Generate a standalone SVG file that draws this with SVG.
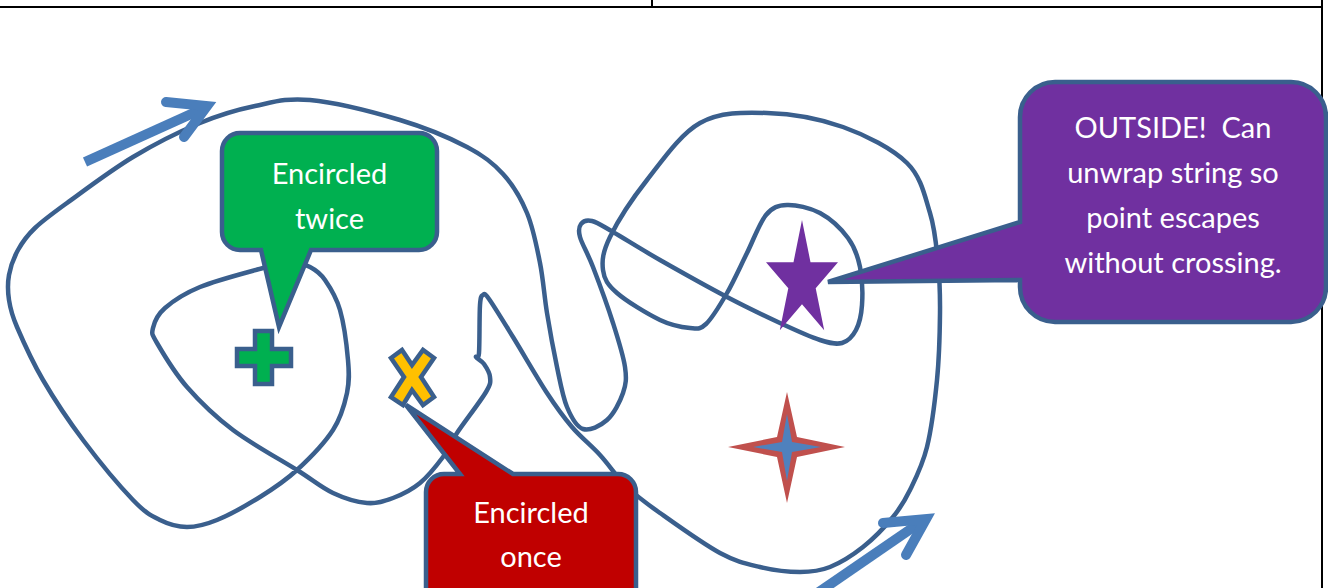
<svg xmlns="http://www.w3.org/2000/svg" width="1328" height="588" viewBox="0 0 1328 588">
<style>
.border{stroke:#000;stroke-width:2;fill:none}
.string{fill:none;stroke:#3A5F8D;stroke-width:4.5;stroke-linejoin:round}
.arrow{fill:none;stroke:#4A7EBB;stroke-width:10}
.callout{stroke:#3A5F8D;stroke-width:4.5;stroke-linejoin:miter}
.lbl{font-family:Lato,"Liberation Sans",sans-serif;font-size:29px;fill:#fff;text-anchor:middle;white-space:pre}
</style>
<rect width="1328" height="588" fill="#fff"/>
<g id="table-borders">
<line class="border" x1="0" y1="7" x2="1323" y2="7"/>
<line class="border" x1="652" y1="0" x2="652" y2="7"/>
<line class="border" x1="1322" y1="0" x2="1322" y2="588"/>
</g>
<g id="connectors">
<path id="string" class="string" d="M9,300 C7.7,291.3 7.5,283.3 9,275 S13.7,257.8 18,250 S26.8,235.8 35,228 S50.7,214.8 67,203 S110.8,170.3 133,157 S179.7,131.5 200,123 S236.7,109.8 255,106 S285.8,97.7 310,100 S373.8,112.2 400,120 S449.8,138 467,147 S493,163 503,174 S520.8,198.2 527,213 S536.7,246.3 540,263 S544.2,295.7 547,313 S553.7,351.3 557,367 S562.7,396.7 567,407 S576.3,426.8 583,429 S600.3,426 607,420 S620,401.8 623,393 S626.7,378.7 625,367 S618.3,339.7 613,323 S598.5,281.3 593,267 S582,244.2 580,237 S579,226.7 581,224 S586.7,219.7 592,221 S601.7,225.5 613,232 S641,249.2 660,260 S707,286.5 727,297 S764.5,315.8 780,323 S809.7,336.7 820,340 S836,344.7 842,343 S852.7,336.3 856,330 S861.3,315.5 862,305 S862.3,278.2 860,267 S854.7,247 848,238 S830.2,218.5 820,213 S796,204.7 787,205 S772.7,207 766,215 S753.5,240 747,253 S733.8,281.2 727,293 S712.2,318.2 706,324 S697.7,328.7 690,328 S672.2,325.8 660,320 S626.5,301.3 617,293 S604.2,279.3 603,270 S602.7,252 610,237 S632,199 647,180 S680,134.2 700,123 S743.2,112.3 767,113 S819.7,118.7 843,127 S892.5,148.7 907,163 S924.8,196.3 930,213 S936.3,246.3 938,263 S940.2,293.5 940,313 S939.2,357.7 937,380 S931.5,428.7 927,447 S915.7,478.3 910,490 S900.8,507.5 893,517 S873.5,538.7 863,547 S840.5,562.8 830,567 S811.7,572 800,572 S773.3,570.2 760,567 S736.7,562 720,553 S675.5,524 660,513 S637,496.7 627,487 S609.2,465 600,455 S580.8,437.3 572,427 S556.8,408 547,393 S522.7,352.7 513,337 S494,306 489,299 S484.5,294 483,295 S480.7,295.3 480,305 S479.7,344.3 479,353 S475.2,355.2 476,357 S481.7,360.7 484,364 S489.7,372.3 490,377 S491.5,382.7 486,392 S464.2,422.2 457,433 S449.2,448.7 443,457 S428.3,476.2 420,483 S401.8,494.7 393,498 S377,503.8 367,503 S344.7,498.5 333,493 S313.7,480.5 297,470 S251.3,443.8 233,430 S199.7,401.5 187,387 S162.7,352.8 157,343 S151.7,333.8 153,328 S157.2,314.8 165,308 S183.7,293.7 200,287 S248,272.2 263,268 S282.2,262.2 290,262 S304.2,264 310,267 S320,272.8 325,280 S336.2,296.7 340,310 S346.8,346.2 348,360 S349.5,381.3 347,393 S341.3,417.2 333,430 S309.2,458.8 297,470 S273.3,488.7 260,497 S229.2,515 217,520 S196.5,527 187,527 S169,524.5 160,520 S145.8,513.3 133,500 S98,460 83,440 S54,398.8 43,380 S22.7,340.3 17,327 S10.3,308.7 9,300 Z"/>
<g id="arrow-top">
<line class="arrow" x1="85" y1="162" x2="200" y2="110" stroke-linecap="butt"/>
<polyline class="arrow" points="166,102 207,106 184,137" stroke-linecap="round" stroke-linejoin="miter" stroke-miterlimit="10"/>
</g>
<g id="arrow-bottom">
<line class="arrow" x1="800" y1="605" x2="918" y2="524" stroke-linecap="butt"/>
<polyline class="arrow" points="883,523 926,519 906,555" stroke-linecap="round" stroke-linejoin="miter" stroke-miterlimit="10"/>
</g>
</g>
<g id="plus-point">
<polygon points="255,331 272,331 272,349 291,349 291,366 272,366 272,384 255,384 255,366 237,366 237,349 255,349" fill="#00B050" stroke="#3A5F8D" stroke-width="4.5"/>
</g>
<g id="purple-star">
<polygon points="802,220 810.5,262.2 838,262.2 815.7,288.2 824.2,330.3 802,304.3 779.8,330.3 788.3,288.2 766,262.2 793.5,262.2" fill="#7030A0"/>
</g>
<g id="four-star">
<polygon points="787,392 797,437 845,447 797,457 787,503 777,457 728,447 777,437" fill="#C0504D"/>
<polygon points="787,414 792,442 821,447 792,452 787,481 782,452 753,447 782,442" fill="#4F81BD"/>
</g>
<g id="callout-twice">
<path class="callout" fill="#00B050" d="M240,133 H419 A18,18 0 0 1 437,151 V232 A18,18 0 0 1 419,250 H311 L279,327 L261,250 H240 A18,18 0 0 1 222,232 V151 A18,18 0 0 1 240,133 Z"/>
<text class="lbl" x="329.5" y="184">Encircled</text>
<text class="lbl" x="329.5" y="229">twice</text>
</g>
<g id="callout-once">
<path class="callout" fill="#C00000" d="M444,474 H460 L406,405 L513,474 H618 A18,18 0 0 1 636,492 V610 H426 V492 A18,18 0 0 1 444,474 Z"/>
<text class="lbl" x="531" y="523">Encircled</text>
<text class="lbl" x="531" y="567">once</text>
</g>
<g id="x-point">
<polygon points="391,358 402,350 412,365 423,350 434,358 421,377 434,397 423,405 412,390 403,405 391,397 404,377" fill="#FFC000" stroke="#3A5F8D" stroke-width="4.5" stroke-linejoin="miter"/>
</g>
<g id="callout-outside">
<path class="callout" fill="#7030A0" d="M1055,82 H1291 A35,35 0 0 1 1326,117 V287 A35,35 0 0 1 1291,322 H1055 A35,35 0 0 1 1020,287 V280 L828,282 L1020,222 V117 A35,35 0 0 1 1055,82 Z"/>
<text class="lbl" x="1173" y="138">OUTSIDE!  Can</text>
<text class="lbl" x="1173" y="183">unwrap string so</text>
<text class="lbl" x="1173" y="228">point escapes</text>
<text class="lbl" x="1173" y="273">without crossing.</text>
</g>
</svg>
